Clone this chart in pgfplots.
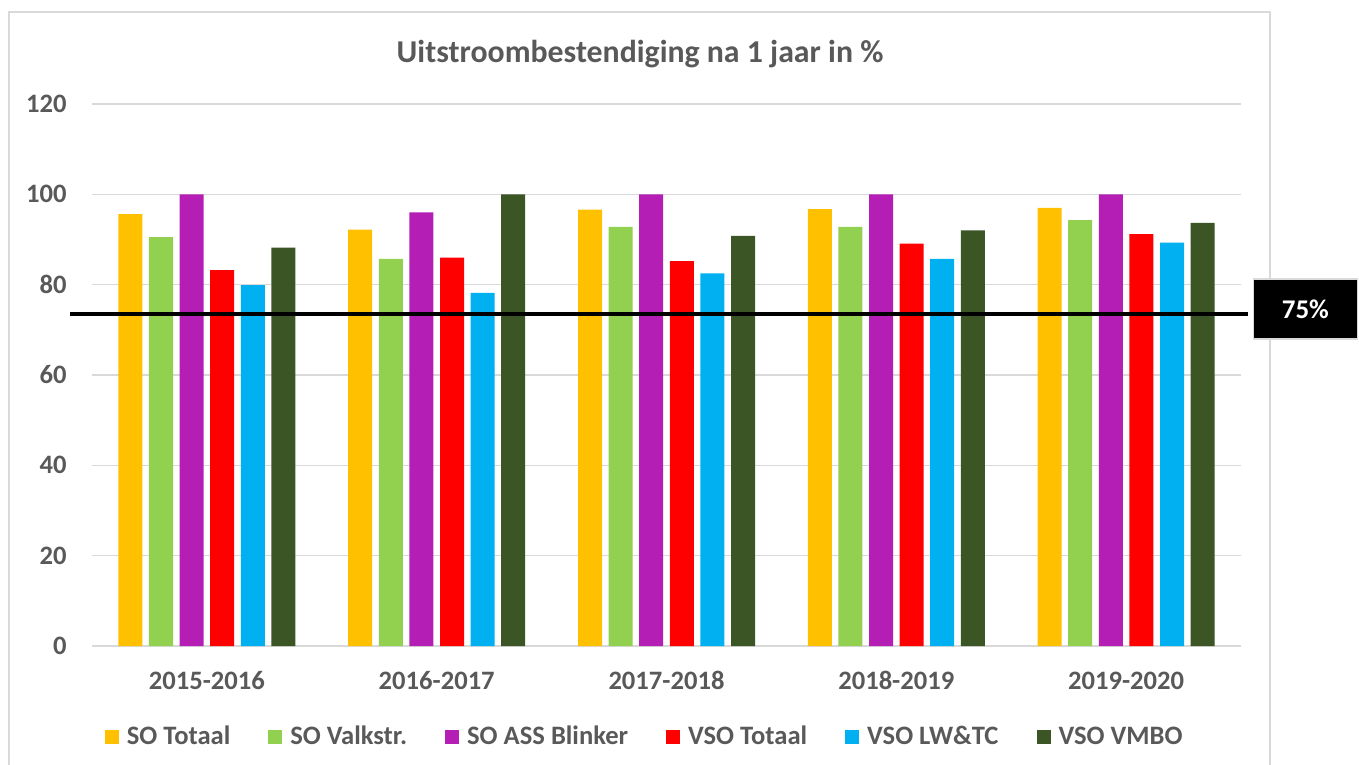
\documentclass[border=0pt]{standalone}
\usepackage{pgfplots}
\pgfplotsset{compat=1.18}
\usepackage{fontspec}
\setmainfont{Carlito}
\definecolor{txt}{HTML}{595959}
\definecolor{gridc}{HTML}{D9D9D9}
\definecolor{cA}{HTML}{FFC000}
\definecolor{cB}{HTML}{92D050}
\definecolor{cC}{HTML}{B41EB4}
\definecolor{cD}{HTML}{FF0000}
\definecolor{cE}{HTML}{00B0F0}
\definecolor{cF}{HTML}{3B5524}
\begin{document}
\begin{tikzpicture}
\draw[gridc, line width=1pt] (-41.5pt,-70pt) -- (-41.5pt,317pt) -- (589pt,317pt) -- (589pt,-70pt);
\begin{axis}[
  at={(0pt,0pt)}, anchor=south west,
  scale only axis, width=574.5pt, height=271pt,
  ybar, bar width=12pt,
  xmin=-0.5, xmax=4.5, ymin=0, ymax=120,
  ytick={0,20,...,120},
  xtick={0,1,2,3,4},
  xticklabels={2015-2016,2016-2017,2017-2018,2018-2019,2019-2020},
  axis line style={draw=none},
  major tick length=0pt, tick style={draw=none},
  ymajorgrids, major grid style={gridc, line width=0.8pt},
  font=\fontsize{13.3}{16}\selectfont\bfseries,
  ticklabel style={text=txt},
  /pgf/number format/assume math mode=true,
  yticklabel style={anchor=east, inner sep=0pt, xshift=-12.5pt},
  xticklabel style={anchor=base, inner sep=0pt, yshift=-21.5pt},
  clip=false,
  legend columns=6,
  legend style={at={(0.481,-0.168)}, anchor=center, draw=none, fill=none,
    font=\fontsize{13.3}{16}\selectfont\bfseries, text=txt,
    /tikz/every odd column/.append style={column sep=3pt},
    /tikz/every even column/.append style={column sep=18pt},
    nodes={inner sep=1pt}},
  legend image code/.code={\fill[#1] (0pt,-3.5pt) rectangle (7pt,3.5pt);},
]
\addplot[fill=cA, draw=none, bar shift=-38.25pt] coordinates {(0,95.6) (1,92.2) (2,96.6) (3,96.7) (4,97.0)};
\addplot[fill=cB, draw=none, bar shift=-22.95pt] coordinates {(0,90.5) (1,85.7) (2,92.8) (3,92.8) (4,94.3)};
\addplot[fill=cC, draw=none, bar shift=-7.65pt] coordinates {(0,100) (1,96.0) (2,100) (3,100) (4,100)};
\addplot[fill=cD, draw=none, bar shift=7.65pt] coordinates {(0,83.2) (1,86.0) (2,85.2) (3,89.1) (4,91.2)};
\addplot[fill=cE, draw=none, bar shift=22.95pt] coordinates {(0,79.9) (1,78.2) (2,82.5) (3,85.7) (4,89.3)};
\addplot[fill=cF, draw=none, bar shift=38.25pt] coordinates {(0,88.2) (1,100) (2,90.8) (3,92.0) (4,93.7)};
\legend{SO Totaal, SO Valkstr., SO ASS Blinker, VSO Totaal, VSO LW\&TC, VSO VMBO}
\addplot[sharp plot, black, line width=1.6pt, bar shift=0pt, forget plot] coordinates {(-0.596,73.5) (4.530,73.5)};
\node[fill=black, draw=gridc, line width=0.8pt, text=white, minimum width=52pt, minimum height=30pt,
  font=\fontsize{13.5}{16}\selectfont\bfseries, inner sep=0pt] at (axis cs:4.78,74.6) {75\%};
\end{axis}
\node[anchor=base, text=txt, font=\fontsize{15.9}{19}\selectfont\bfseries, inner sep=0pt] at (274pt,291.5pt) {Uitstroombestendiging na 1 jaar in \%};
\pgfresetboundingbox
\path[use as bounding box] (-46pt,-59.5pt) rectangle (633.5pt,323pt);
\end{tikzpicture}
\end{document}
